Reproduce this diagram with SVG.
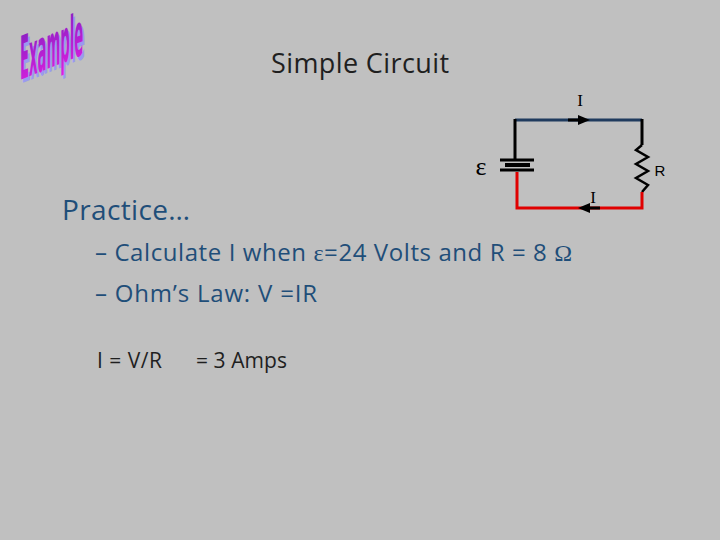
<svg xmlns="http://www.w3.org/2000/svg" width="720" height="540" viewBox="0 0 720 540">
<style>
.t{font-family:"Open Sans","Liberation Sans",sans-serif;fill:#1f1f1f}
.b{font-family:"Open Sans","Liberation Sans",sans-serif;fill:#1f4e79}
.s{font-family:"Liberation Serif",serif;fill:#000}
</style>
<defs>
<linearGradient id="g" x1="0" y1="1" x2="0" y2="0"><stop offset="0" stop-color="#e020e0"/><stop offset="1" stop-color="#8020c0"/></linearGradient>
</defs>
<rect width="720" height="540" fill="#c0c0c0"/>
<g id="logo">
<g transform="translate(20,80) skewY(-22) scale(0.44,2.0)">
<text x="4" y="2" font-family="DejaVu Sans" font-weight="bold" font-size="30" fill="#9a9af0">Example</text>
<text x="0" y="0" font-family="DejaVu Sans" font-weight="bold" font-size="30" fill="url(#g)">Example</text>
</g>
</g>
<text class="t" x="360" y="73" font-size="27" text-anchor="middle" textLength="178">Simple Circuit</text>
<g id="circuit">
<line x1="515" y1="120" x2="642" y2="120" stroke="#1f3b5e" stroke-width="3"/>
<line x1="515" y1="119" x2="515" y2="160" stroke="#000" stroke-width="3"/>
<line x1="642" y1="119" x2="642" y2="145" stroke="#000" stroke-width="3"/>
<polyline points="642,145 636,150 648,157 636,164 648,171 636,178 648,185 642,192" fill="none" stroke="#000" stroke-width="2.5"/>
<polyline points="517,172 517,208 642,208 642,192" fill="none" stroke="#e00000" stroke-width="3"/>
<line x1="500" y1="160" x2="534" y2="160" stroke="#000" stroke-width="3"/>
<line x1="505" y1="165" x2="530" y2="165" stroke="#000" stroke-width="4"/>
<line x1="500" y1="170" x2="534" y2="170" stroke="#000" stroke-width="3"/>
<polygon points="590,120 578,115 578,125" fill="#000"/>
<line x1="568" y1="120" x2="580" y2="120" stroke="#000" stroke-width="3"/>
<polygon points="578,208 590,203 590,213" fill="#000"/>
<line x1="588" y1="208" x2="600" y2="208" stroke="#000" stroke-width="3"/>
<text class="s" x="580" y="106" font-size="17" text-anchor="middle">I</text>
<text class="s" x="593" y="203" font-size="17" text-anchor="middle">I</text>
<text class="s" x="481" y="175" font-size="26" text-anchor="middle">ε</text>
<text x="660" y="176" font-family="Liberation Sans,sans-serif" font-size="15" fill="#000" text-anchor="middle">R</text>
</g>
<text class="b" x="62" y="220" font-size="28" textLength="128">Practice…</text>
<text class="b" x="95" y="261" font-size="24" textLength="477">– Calculate I when <tspan font-family="Liberation Serif,serif">ε</tspan>=24 Volts and R = 8 <tspan font-family="Liberation Serif,serif">Ω</tspan></text>
<text class="b" x="95" y="302" font-size="24" textLength="222">– Ohm’s Law: V =IR</text>
<text class="t" x="97" y="368" font-size="21" textLength="65">I = V/R</text>
<text class="t" x="196" y="368" font-size="21" textLength="91">= 3 Amps</text>
</svg>
